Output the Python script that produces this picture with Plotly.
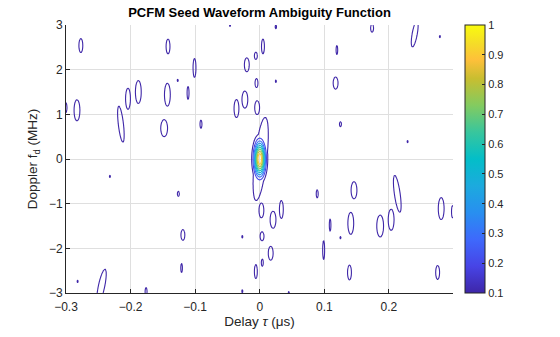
import numpy as np
import plotly.graph_objects as go

# ---- data (contour "islands" of the ambiguity surface) ----
# delay (us), doppler (MHz), extent of the 0.1 contour in delay (us) and doppler (MHz), shear, peak
island_delay = [-0.277, -0.142, -0.101, -0.020, -0.006, -0.005, -0.127, -0.111, -0.188, -0.204,
                -0.143, -0.283, -0.303, -0.215, -0.148, -0.091, -0.036, -0.023, -0.004, -0.046,
                0.025, 0.005, 0.025, 0.1195, 0.174, 0.240, 0.279, 0.1175, 0.125, 0.229,
                -0.232, -0.126, -0.119, -0.027, -0.121, -0.282, -0.245, -0.176, -0.027, -0.006,
                0.0026, 0.0335, 0.0206, 0.0036, 0.017, 0.004, 0.045, 0.089, 0.146, 0.213,
                0.109, 0.125, 0.141, 0.1865, 0.2035, 0.099, 0.139, 0.281, 0.2985, 0.2755]
island_doppler = [2.54, 2.52, 2.04, 2.11, 2.31, 1.70, 1.76, 1.48, 1.50, 1.35,
                  1.44, 1.09, 1.15, 0.78, 0.69, 0.78, 1.13, 1.33, 1.15, 3.0,
                  2.96, 2.52, 1.74, 2.44, 2.93, 2.80, 2.74, 1.70, 0.78, 0.39,
                  -0.39, -0.78, -1.70, -1.74, -2.44, -2.74, -2.85, -2.97, -2.96, -2.52,
                  -1.15, -1.13, -1.36, -1.73, -2.11, -2.32, -3.0, -0.78, -0.70, -0.78,
                  -1.48, -1.76, -1.44, -1.50, -1.36, -2.04, -2.54, -1.11, -1.18, -2.54]
island_width = [0.006, 0.006, 0.0045, 0.0075, 0.0045, 0.0045, 0.0015, 0.003, 0.009, 0.0075,
                0.009, 0.009, 0.009, 0.008, 0.0105, 0.003, 0.0075, 0.009, 0.0075, 0.0015,
                0.002, 0.0045, 0.0015, 0.0025, 0.0045, 0.008, 0.0015, 0.0075, 0.003, 0.0015,
                0.0015, 0.003, 0.006, 0.0015, 0.0025, 0.0015, 0.01, 0.003, 0.0015, 0.0045,
                0.0075, 0.006, 0.009, 0.006, 0.0075, 0.003, 0.0015, 0.003, 0.009, 0.009,
                0.0025, 0.0015, 0.009, 0.0105, 0.009, 0.003, 0.006, 0.009, 0.003, 0.006]
island_height = [0.31, 0.33, 0.42, 0.31, 0.16, 0.20, 0.05, 0.29, 0.51, 0.47,
                 0.51, 0.47, 0.31, 0.80, 0.38, 0.18, 0.40, 0.38, 0.31, 0.07,
                 0.09, 0.33, 0.06, 0.20, 0.18, 0.58, 0.05, 0.27, 0.11, 0.05,
                 0.05, 0.11, 0.24, 0.06, 0.20, 0.05, 0.76, 0.18, 0.07, 0.31,
                 0.33, 0.40, 0.38, 0.20, 0.31, 0.16, 0.07, 0.18, 0.38, 0.82,
                 0.27, 0.05, 0.49, 0.49, 0.47, 0.42, 0.33, 0.49, 0.27, 0.31]
island_tilt = {13: -0.0078, 25: 0.012, 36: 0.014, 49: -0.0095}
island_peak = 0.13

# main lobe and its pedestal at the origin
lobe_delay = [0.0, 0.0015]
lobe_doppler = [0.0, 0.0]
lobe_width = [0.0249, 0.019]
lobe_height = [1.116, 1.86]
lobe_tilt = [0.0, 0.0075]
lobe_peak = [1.0, 0.15]

levels = [0.1, 0.2, 0.3, 0.4, 0.5, 0.6, 0.7, 0.8, 0.9, 1.0]
cbar_ticks = [0.1, 0.2, 0.3, 0.4, 0.5, 0.6, 0.7, 0.8, 0.9, 1]
x_ticks = [-0.3, -0.2, -0.1, 0, 0.1, 0.2]
x_labels = ["\u22120.3", "\u22120.2", "\u22120.1", "0", "0.1", "0.2"]
y_ticks = [-3, -2, -1, 0, 1, 2, 3]
y_labels = ["\u22123", "\u22122", "\u22121", "0", "1", "2", "3"]

# ---- surface on a grid ----
tau = np.linspace(-0.3, 0.2993, 750)
fd = np.linspace(-3, 3, 487)
T, F = np.meshgrid(tau, fd)
Z = np.zeros_like(T)


def add_blob(x0, y0, w, h, tilt, peak):
    k = np.sqrt(2 * np.log(peak / 0.1))
    sx = (w / 2) / k
    sy = (h / 2) / k
    dx = T - x0 - tilt * (F - y0)
    dy = F - y0
    return peak * np.exp(-0.5 * ((dx / sx) ** 2 + (dy / sy) ** 2))


for i in range(len(island_delay)):
    pk = island_peak if island_width[i] > 0.002 else 0.11
    Z = np.maximum(Z, add_blob(island_delay[i], island_doppler[i], island_width[i],
                               island_height[i], island_tilt.get(i, 0.0), pk))
for i in range(len(lobe_delay)):
    Z = np.maximum(Z, add_blob(lobe_delay[i], lobe_doppler[i], lobe_width[i],
                               lobe_height[i], lobe_tilt[i], lobe_peak[i]))

z_list = [[0 if v < 0.04 else round(float(v), 3) for v in row] for row in Z]

parula = [
    [0.00, "rgb(62,38,168)"], [0.10, "rgb(71,68,230)"], [0.20, "rgb(62,105,252)"],
    [0.30, "rgb(40,143,240)"], [0.40, "rgb(28,170,222)"], [0.50, "rgb(3,190,200)"],
    [0.60, "rgb(56,198,157)"], [0.70, "rgb(131,203,96)"], [0.80, "rgb(200,190,48)"],
    [0.87, "rgb(254,192,58)"], [0.93, "rgb(245,220,40)"], [1.00, "rgb(249,251,14)"],
]

FONT = "Liberation Sans, Arial, sans-serif"
AX = "#262626"

fig = go.Figure()
fig.add_trace(go.Contour(
    x=tau.round(5).tolist(), y=fd.round(5).tolist(), z=z_list,
    contours=dict(start=levels[0], end=levels[-1], size=0.1, coloring="lines"),
    line=dict(width=1.1), colorscale=parula, zmin=0.1, zmax=1,
    showscale=False, hoverinfo="skip",
))
fig.add_trace(go.Scatter(
    x=[-1], y=[-10], mode="markers", hoverinfo="skip", showlegend=False,
    marker=dict(size=1, color=[0.1], colorscale=parula, cmin=0.1, cmax=1, showscale=True,
                colorbar=dict(thickness=20, thicknessmode="pixels", len=1, lenmode="fraction",
                              x=1.031, xanchor="left", y=0.5, yanchor="middle",
                              xpad=0, ypad=0, outlinewidth=1, outlinecolor=AX,
                              tickvals=cbar_ticks, ticktext=[str(t) for t in cbar_ticks],
                              ticks="inside", ticklen=3, tickcolor=AX,
                              tickfont=dict(family=FONT, size=11, color=AX))),
))

fig.update_layout(
    width=560, height=337, margin=dict(l=66, r=107, t=25, b=42),
    paper_bgcolor="white", plot_bgcolor="white", showlegend=False,
    title=dict(text="<b>PCFM Seed Waveform Ambiguity Function</b>", x=0.4634, xanchor="center",
               y=0.962, yanchor="middle", font=dict(family=FONT, size=13, color="#000000")),
    xaxis=dict(range=[-0.3, 0.2993], tickvals=x_ticks, ticktext=x_labels,
               showgrid=True, gridcolor="#dfdfdf", gridwidth=1, zeroline=False,
               showline=True, linecolor=AX, linewidth=1, ticks="inside", ticklen=4, tickcolor=AX,
               ticklabelstandoff=3,
               tickfont=dict(family=FONT, size=12, color=AX),
               title=dict(text="Delay <i>τ</i> (μs)", font=dict(family=FONT, size=13.5, color=AX), standoff=1)),
    yaxis=dict(range=[-3, 3], tickvals=y_ticks, ticktext=y_labels,
               showgrid=True, gridcolor="#dfdfdf", gridwidth=1, zeroline=False,
               showline=True, linecolor=AX, linewidth=1, ticks="inside", ticklen=4, tickcolor=AX,
               tickfont=dict(family=FONT, size=12, color=AX),
               title=dict(text="Doppler f<sub>d</sub> (MHz)", font=dict(family=FONT, size=13.5, color=AX), standoff=8)),
)

fig.write_html("out.html")
